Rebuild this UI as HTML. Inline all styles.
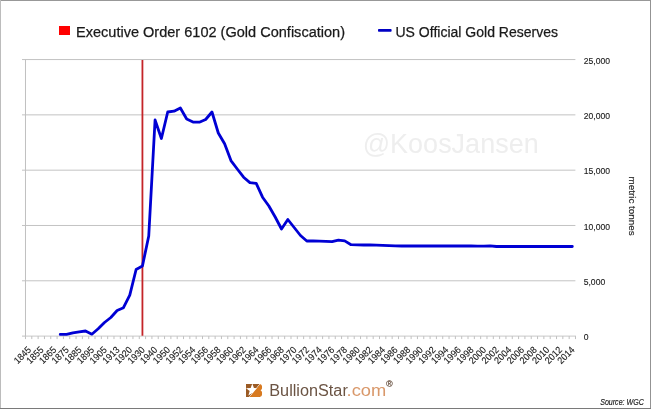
<!DOCTYPE html>
<html><head><meta charset="utf-8"><style>
html,body{margin:0;padding:0;background:#fff;}
body{width:651px;height:409px;overflow:hidden;position:relative;}
svg{position:absolute;left:0;top:0;will-change:transform;}
text{font-family:"Liberation Sans",sans-serif;}
</style></head><body>
<svg width="651" height="409" viewBox="0 0 651 409">
<rect x="0" y="0" width="651" height="409" fill="#fff"/>

<rect x="0" y="0" width="651" height="1" fill="#989898"/>
<rect x="0" y="0" width="1" height="409" fill="#bcbcbc"/>
<rect x="650" y="0" width="1" height="409" fill="#939393"/>
<rect x="0" y="408" width="651" height="1" fill="#7a7a7a"/>
<rect x="59" y="26" width="11" height="9" fill="#ff0000"/>
<text x="76" y="36.6" font-size="14.9" fill="#1a1a1a" stroke="#1a1a1a" stroke-width="0.25" textLength="269" lengthAdjust="spacingAndGlyphs">Executive Order 6102 (Gold Confiscation)</text>
<rect x="378" y="29" width="13.6" height="2.7" rx="0.8" fill="#0000c4"/>
<text x="395.5" y="36.6" font-size="14.9" fill="#1a1a1a" stroke="#1a1a1a" stroke-width="0.25" textLength="162.5" lengthAdjust="spacingAndGlyphs">US Official Gold Reserves</text>
<text x="362.7" y="153" font-size="28" fill="#eeeeee" textLength="176" lengthAdjust="spacingAndGlyphs">@KoosJansen</text>
<line x1="22" y1="280.79" x2="575.4" y2="280.79" stroke="#c3c3c3" stroke-width="1"/>
<line x1="22" y1="225.48" x2="575.4" y2="225.48" stroke="#c3c3c3" stroke-width="1"/>
<line x1="22" y1="170.17" x2="575.4" y2="170.17" stroke="#c3c3c3" stroke-width="1"/>
<line x1="22" y1="114.86" x2="575.4" y2="114.86" stroke="#c3c3c3" stroke-width="1"/>
<line x1="22" y1="59.55" x2="575.4" y2="59.55" stroke="#c3c3c3" stroke-width="1"/>
<line x1="25.47" y1="59.55" x2="25.47" y2="336.10" stroke="#c0c0c0" stroke-width="1"/>
<line x1="22" y1="336.10" x2="25.47" y2="336.10" stroke="#c0c0c0" stroke-width="1"/>
<line x1="25.47" y1="336.10" x2="576" y2="336.10" stroke="#c8c8c8" stroke-width="1"/>
<path d="M25.47 336.10V339.10M31.79 336.10V339.10M38.11 336.10V339.10M44.44 336.10V339.10M50.76 336.10V339.10M57.08 336.10V339.10M63.40 336.10V339.10M69.72 336.10V339.10M76.05 336.10V339.10M82.37 336.10V339.10M88.69 336.10V339.10M95.01 336.10V339.10M101.33 336.10V339.10M107.66 336.10V339.10M113.98 336.10V339.10M120.30 336.10V339.10M126.62 336.10V339.10M132.94 336.10V339.10M139.27 336.10V339.10M145.59 336.10V339.10M151.91 336.10V339.10M158.23 336.10V339.10M164.55 336.10V339.10M170.88 336.10V339.10M177.20 336.10V339.10M183.52 336.10V339.10M189.84 336.10V339.10M196.16 336.10V339.10M202.49 336.10V339.10M208.81 336.10V339.10M215.13 336.10V339.10M221.45 336.10V339.10M227.77 336.10V339.10M234.10 336.10V339.10M240.42 336.10V339.10M246.74 336.10V339.10M253.06 336.10V339.10M259.38 336.10V339.10M265.71 336.10V339.10M272.03 336.10V339.10M278.35 336.10V339.10M284.67 336.10V339.10M290.99 336.10V339.10M297.32 336.10V339.10M303.64 336.10V339.10M309.96 336.10V339.10M316.28 336.10V339.10M322.60 336.10V339.10M328.93 336.10V339.10M335.25 336.10V339.10M341.57 336.10V339.10M347.89 336.10V339.10M354.21 336.10V339.10M360.54 336.10V339.10M366.86 336.10V339.10M373.18 336.10V339.10M379.50 336.10V339.10M385.82 336.10V339.10M392.15 336.10V339.10M398.47 336.10V339.10M404.79 336.10V339.10M411.11 336.10V339.10M417.43 336.10V339.10M423.76 336.10V339.10M430.08 336.10V339.10M436.40 336.10V339.10M442.72 336.10V339.10M449.04 336.10V339.10M455.37 336.10V339.10M461.69 336.10V339.10M468.01 336.10V339.10M474.33 336.10V339.10M480.65 336.10V339.10M486.98 336.10V339.10M493.30 336.10V339.10M499.62 336.10V339.10M505.94 336.10V339.10M512.26 336.10V339.10M518.59 336.10V339.10M524.91 336.10V339.10M531.23 336.10V339.10M537.55 336.10V339.10M543.87 336.10V339.10M550.20 336.10V339.10M556.52 336.10V339.10M562.84 336.10V339.10M569.16 336.10V339.10M575.48 336.10V339.10" stroke="#c0c0c0" stroke-width="1" fill="none"/>
<text x="583.7" y="340.30" font-size="8.6" fill="#1a1a1a" stroke="#1a1a1a" stroke-width="0.12">0</text>
<text x="583.7" y="284.99" font-size="8.6" fill="#1a1a1a" stroke="#1a1a1a" stroke-width="0.12">5,000</text>
<text x="583.7" y="229.68" font-size="8.6" fill="#1a1a1a" stroke="#1a1a1a" stroke-width="0.12">10,000</text>
<text x="583.7" y="174.37" font-size="8.6" fill="#1a1a1a" stroke="#1a1a1a" stroke-width="0.12">15,000</text>
<text x="583.7" y="119.06" font-size="8.6" fill="#1a1a1a" stroke="#1a1a1a" stroke-width="0.12">20,000</text>
<text x="583.7" y="63.75" font-size="8.6" fill="#1a1a1a" stroke="#1a1a1a" stroke-width="0.12">25,000</text>
<text transform="translate(629,176.6) rotate(90)" x="0" y="0" font-size="9.6" fill="#1a1a1a" stroke="#1a1a1a" stroke-width="0.15" textLength="59" lengthAdjust="spacingAndGlyphs">metric tonnes</text>
<text transform="translate(29.53,348.30) rotate(-45)" x="0" y="3" text-anchor="end" font-size="9.6" fill="#1a1a1a" stroke="#1a1a1a" stroke-width="0.12" textLength="19.8" lengthAdjust="spacingAndGlyphs">1845</text>
<text transform="translate(42.17,348.30) rotate(-45)" x="0" y="3" text-anchor="end" font-size="9.6" fill="#1a1a1a" stroke="#1a1a1a" stroke-width="0.12" textLength="19.8" lengthAdjust="spacingAndGlyphs">1855</text>
<text transform="translate(54.82,348.30) rotate(-45)" x="0" y="3" text-anchor="end" font-size="9.6" fill="#1a1a1a" stroke="#1a1a1a" stroke-width="0.12" textLength="19.8" lengthAdjust="spacingAndGlyphs">1865</text>
<text transform="translate(67.46,348.30) rotate(-45)" x="0" y="3" text-anchor="end" font-size="9.6" fill="#1a1a1a" stroke="#1a1a1a" stroke-width="0.12" textLength="19.8" lengthAdjust="spacingAndGlyphs">1875</text>
<text transform="translate(80.11,348.30) rotate(-45)" x="0" y="3" text-anchor="end" font-size="9.6" fill="#1a1a1a" stroke="#1a1a1a" stroke-width="0.12" textLength="19.8" lengthAdjust="spacingAndGlyphs">1885</text>
<text transform="translate(92.75,348.30) rotate(-45)" x="0" y="3" text-anchor="end" font-size="9.6" fill="#1a1a1a" stroke="#1a1a1a" stroke-width="0.12" textLength="19.8" lengthAdjust="spacingAndGlyphs">1895</text>
<text transform="translate(105.40,348.30) rotate(-45)" x="0" y="3" text-anchor="end" font-size="9.6" fill="#1a1a1a" stroke="#1a1a1a" stroke-width="0.12" textLength="19.8" lengthAdjust="spacingAndGlyphs">1905</text>
<text transform="translate(118.04,348.30) rotate(-45)" x="0" y="3" text-anchor="end" font-size="9.6" fill="#1a1a1a" stroke="#1a1a1a" stroke-width="0.12" textLength="19.8" lengthAdjust="spacingAndGlyphs">1913</text>
<text transform="translate(130.68,348.30) rotate(-45)" x="0" y="3" text-anchor="end" font-size="9.6" fill="#1a1a1a" stroke="#1a1a1a" stroke-width="0.12" textLength="19.8" lengthAdjust="spacingAndGlyphs">1920</text>
<text transform="translate(143.33,348.30) rotate(-45)" x="0" y="3" text-anchor="end" font-size="9.6" fill="#1a1a1a" stroke="#1a1a1a" stroke-width="0.12" textLength="19.8" lengthAdjust="spacingAndGlyphs">1930</text>
<text transform="translate(155.97,348.30) rotate(-45)" x="0" y="3" text-anchor="end" font-size="9.6" fill="#1a1a1a" stroke="#1a1a1a" stroke-width="0.12" textLength="19.8" lengthAdjust="spacingAndGlyphs">1940</text>
<text transform="translate(168.62,348.30) rotate(-45)" x="0" y="3" text-anchor="end" font-size="9.6" fill="#1a1a1a" stroke="#1a1a1a" stroke-width="0.12" textLength="19.8" lengthAdjust="spacingAndGlyphs">1950</text>
<text transform="translate(181.26,348.30) rotate(-45)" x="0" y="3" text-anchor="end" font-size="9.6" fill="#1a1a1a" stroke="#1a1a1a" stroke-width="0.12" textLength="19.8" lengthAdjust="spacingAndGlyphs">1952</text>
<text transform="translate(193.90,348.30) rotate(-45)" x="0" y="3" text-anchor="end" font-size="9.6" fill="#1a1a1a" stroke="#1a1a1a" stroke-width="0.12" textLength="19.8" lengthAdjust="spacingAndGlyphs">1954</text>
<text transform="translate(206.55,348.30) rotate(-45)" x="0" y="3" text-anchor="end" font-size="9.6" fill="#1a1a1a" stroke="#1a1a1a" stroke-width="0.12" textLength="19.8" lengthAdjust="spacingAndGlyphs">1956</text>
<text transform="translate(219.19,348.30) rotate(-45)" x="0" y="3" text-anchor="end" font-size="9.6" fill="#1a1a1a" stroke="#1a1a1a" stroke-width="0.12" textLength="19.8" lengthAdjust="spacingAndGlyphs">1958</text>
<text transform="translate(231.84,348.30) rotate(-45)" x="0" y="3" text-anchor="end" font-size="9.6" fill="#1a1a1a" stroke="#1a1a1a" stroke-width="0.12" textLength="19.8" lengthAdjust="spacingAndGlyphs">1960</text>
<text transform="translate(244.48,348.30) rotate(-45)" x="0" y="3" text-anchor="end" font-size="9.6" fill="#1a1a1a" stroke="#1a1a1a" stroke-width="0.12" textLength="19.8" lengthAdjust="spacingAndGlyphs">1962</text>
<text transform="translate(257.12,348.30) rotate(-45)" x="0" y="3" text-anchor="end" font-size="9.6" fill="#1a1a1a" stroke="#1a1a1a" stroke-width="0.12" textLength="19.8" lengthAdjust="spacingAndGlyphs">1964</text>
<text transform="translate(269.77,348.30) rotate(-45)" x="0" y="3" text-anchor="end" font-size="9.6" fill="#1a1a1a" stroke="#1a1a1a" stroke-width="0.12" textLength="19.8" lengthAdjust="spacingAndGlyphs">1966</text>
<text transform="translate(282.41,348.30) rotate(-45)" x="0" y="3" text-anchor="end" font-size="9.6" fill="#1a1a1a" stroke="#1a1a1a" stroke-width="0.12" textLength="19.8" lengthAdjust="spacingAndGlyphs">1968</text>
<text transform="translate(295.05,348.30) rotate(-45)" x="0" y="3" text-anchor="end" font-size="9.6" fill="#1a1a1a" stroke="#1a1a1a" stroke-width="0.12" textLength="19.8" lengthAdjust="spacingAndGlyphs">1970</text>
<text transform="translate(307.70,348.30) rotate(-45)" x="0" y="3" text-anchor="end" font-size="9.6" fill="#1a1a1a" stroke="#1a1a1a" stroke-width="0.12" textLength="19.8" lengthAdjust="spacingAndGlyphs">1972</text>
<text transform="translate(320.34,348.30) rotate(-45)" x="0" y="3" text-anchor="end" font-size="9.6" fill="#1a1a1a" stroke="#1a1a1a" stroke-width="0.12" textLength="19.8" lengthAdjust="spacingAndGlyphs">1974</text>
<text transform="translate(332.99,348.30) rotate(-45)" x="0" y="3" text-anchor="end" font-size="9.6" fill="#1a1a1a" stroke="#1a1a1a" stroke-width="0.12" textLength="19.8" lengthAdjust="spacingAndGlyphs">1976</text>
<text transform="translate(345.63,348.30) rotate(-45)" x="0" y="3" text-anchor="end" font-size="9.6" fill="#1a1a1a" stroke="#1a1a1a" stroke-width="0.12" textLength="19.8" lengthAdjust="spacingAndGlyphs">1978</text>
<text transform="translate(358.27,348.30) rotate(-45)" x="0" y="3" text-anchor="end" font-size="9.6" fill="#1a1a1a" stroke="#1a1a1a" stroke-width="0.12" textLength="19.8" lengthAdjust="spacingAndGlyphs">1980</text>
<text transform="translate(370.92,348.30) rotate(-45)" x="0" y="3" text-anchor="end" font-size="9.6" fill="#1a1a1a" stroke="#1a1a1a" stroke-width="0.12" textLength="19.8" lengthAdjust="spacingAndGlyphs">1982</text>
<text transform="translate(383.56,348.30) rotate(-45)" x="0" y="3" text-anchor="end" font-size="9.6" fill="#1a1a1a" stroke="#1a1a1a" stroke-width="0.12" textLength="19.8" lengthAdjust="spacingAndGlyphs">1984</text>
<text transform="translate(396.21,348.30) rotate(-45)" x="0" y="3" text-anchor="end" font-size="9.6" fill="#1a1a1a" stroke="#1a1a1a" stroke-width="0.12" textLength="19.8" lengthAdjust="spacingAndGlyphs">1986</text>
<text transform="translate(408.85,348.30) rotate(-45)" x="0" y="3" text-anchor="end" font-size="9.6" fill="#1a1a1a" stroke="#1a1a1a" stroke-width="0.12" textLength="19.8" lengthAdjust="spacingAndGlyphs">1988</text>
<text transform="translate(421.50,348.30) rotate(-45)" x="0" y="3" text-anchor="end" font-size="9.6" fill="#1a1a1a" stroke="#1a1a1a" stroke-width="0.12" textLength="19.8" lengthAdjust="spacingAndGlyphs">1990</text>
<text transform="translate(434.14,348.30) rotate(-45)" x="0" y="3" text-anchor="end" font-size="9.6" fill="#1a1a1a" stroke="#1a1a1a" stroke-width="0.12" textLength="19.8" lengthAdjust="spacingAndGlyphs">1992</text>
<text transform="translate(446.78,348.30) rotate(-45)" x="0" y="3" text-anchor="end" font-size="9.6" fill="#1a1a1a" stroke="#1a1a1a" stroke-width="0.12" textLength="19.8" lengthAdjust="spacingAndGlyphs">1994</text>
<text transform="translate(459.43,348.30) rotate(-45)" x="0" y="3" text-anchor="end" font-size="9.6" fill="#1a1a1a" stroke="#1a1a1a" stroke-width="0.12" textLength="19.8" lengthAdjust="spacingAndGlyphs">1996</text>
<text transform="translate(472.07,348.30) rotate(-45)" x="0" y="3" text-anchor="end" font-size="9.6" fill="#1a1a1a" stroke="#1a1a1a" stroke-width="0.12" textLength="19.8" lengthAdjust="spacingAndGlyphs">1998</text>
<text transform="translate(484.72,348.30) rotate(-45)" x="0" y="3" text-anchor="end" font-size="9.6" fill="#1a1a1a" stroke="#1a1a1a" stroke-width="0.12" textLength="19.8" lengthAdjust="spacingAndGlyphs">2000</text>
<text transform="translate(497.36,348.30) rotate(-45)" x="0" y="3" text-anchor="end" font-size="9.6" fill="#1a1a1a" stroke="#1a1a1a" stroke-width="0.12" textLength="19.8" lengthAdjust="spacingAndGlyphs">2002</text>
<text transform="translate(510.00,348.30) rotate(-45)" x="0" y="3" text-anchor="end" font-size="9.6" fill="#1a1a1a" stroke="#1a1a1a" stroke-width="0.12" textLength="19.8" lengthAdjust="spacingAndGlyphs">2004</text>
<text transform="translate(522.65,348.30) rotate(-45)" x="0" y="3" text-anchor="end" font-size="9.6" fill="#1a1a1a" stroke="#1a1a1a" stroke-width="0.12" textLength="19.8" lengthAdjust="spacingAndGlyphs">2006</text>
<text transform="translate(535.29,348.30) rotate(-45)" x="0" y="3" text-anchor="end" font-size="9.6" fill="#1a1a1a" stroke="#1a1a1a" stroke-width="0.12" textLength="19.8" lengthAdjust="spacingAndGlyphs">2008</text>
<text transform="translate(547.94,348.30) rotate(-45)" x="0" y="3" text-anchor="end" font-size="9.6" fill="#1a1a1a" stroke="#1a1a1a" stroke-width="0.12" textLength="19.8" lengthAdjust="spacingAndGlyphs">2010</text>
<text transform="translate(560.58,348.30) rotate(-45)" x="0" y="3" text-anchor="end" font-size="9.6" fill="#1a1a1a" stroke="#1a1a1a" stroke-width="0.12" textLength="19.8" lengthAdjust="spacingAndGlyphs">2012</text>
<text transform="translate(573.22,348.30) rotate(-45)" x="0" y="3" text-anchor="end" font-size="9.6" fill="#1a1a1a" stroke="#1a1a1a" stroke-width="0.12" textLength="19.8" lengthAdjust="spacingAndGlyphs">2014</text>
<line x1="142.43" y1="59.95" x2="142.43" y2="335.80" stroke="#c42428" stroke-width="1.8"/>
<polyline points="60.24,334.40 66.56,334.40 72.88,332.80 79.21,331.80 85.53,331.00 91.85,334.20 98.17,328.80 104.50,322.50 110.82,317.50 117.14,310.50 123.46,307.70 129.78,295.20 136.11,269.50 142.43,266.00 148.75,236.00 155.07,120.00 161.39,138.50 167.72,112.00 174.04,111.20 180.36,108.00 186.68,119.00 193.00,122.00 199.32,122.20 205.65,119.50 211.97,112.00 218.29,133.00 224.61,143.80 230.94,160.60 237.26,169.00 243.58,177.20 249.90,182.60 256.22,183.40 262.54,197.20 268.87,206.00 275.19,217.00 281.51,229.00 287.83,219.50 294.15,227.50 300.48,235.50 306.80,241.00 313.12,241.00 319.44,241.20 325.76,241.40 332.09,241.60 338.41,240.20 344.73,240.90 351.05,244.70 357.38,244.80 363.70,245.00 370.02,245.00 376.34,245.20 382.66,245.40 388.99,245.60 395.31,245.90 401.63,246.00 407.95,246.00 414.27,246.00 420.60,246.00 426.92,246.00 433.24,246.00 439.56,246.00 445.88,246.00 452.21,246.00 458.53,246.00 464.85,246.00 471.17,246.00 477.49,246.20 483.82,246.20 490.14,245.80 496.46,246.50 502.78,246.50 509.10,246.50 515.42,246.50 521.75,246.50 528.07,246.50 534.39,246.50 540.71,246.50 547.04,246.50 553.36,246.50 559.68,246.50 566.00,246.50 572.32,246.50" fill="none" stroke="#0000d4" stroke-width="2.8" stroke-linejoin="round" stroke-linecap="round"/>
<defs><clipPath id="lc"><rect x="0" y="0" width="16.2" height="13"/></clipPath></defs>
<g transform="translate(246,384)" clip-path="url(#lc)">
<rect x="0" y="0" width="14" height="13" fill="#9a5a24"/>
<path d="M6.30 -0.50L7.92 3.98L12.67 4.13L8.92 7.05L10.24 11.62L6.30 8.95L2.36 11.62L3.68 7.05L-0.07 4.13L4.68 3.98Z" fill="#fff"/>
<path d="M14.5 -0.6L3.0 13.6" stroke="#fff" stroke-width="1"/>
<path d="M14.3 0H12.9A3.2 3.2 0 0 1 16.1 3.2A3.1 3.1 0 0 1 14.6 6.3A3.3 3.3 0 0 1 16.1 9.7A3.3 3.3 0 0 1 12.8 13H3.6Z" fill="#d87a20"/>
</g>
<text x="269.3" y="395.5" font-size="15.6" fill="#6b5444" textLength="78.5" lengthAdjust="spacingAndGlyphs">BullionStar</text>
<text x="346.6" y="395.5" font-size="15.6" fill="#d9986a" textLength="39.6" lengthAdjust="spacingAndGlyphs">.com</text>
<text x="386.2" y="387.2" font-size="8.6" fill="#6e5848" stroke="#6e5848" stroke-width="0.25">®</text>
<text x="600.2" y="405" font-size="8.4" font-style="italic" fill="#1a1a1a" stroke="#1a1a1a" stroke-width="0.15" textLength="43.6" lengthAdjust="spacingAndGlyphs">Source: WGC</text>
</svg></body></html>
